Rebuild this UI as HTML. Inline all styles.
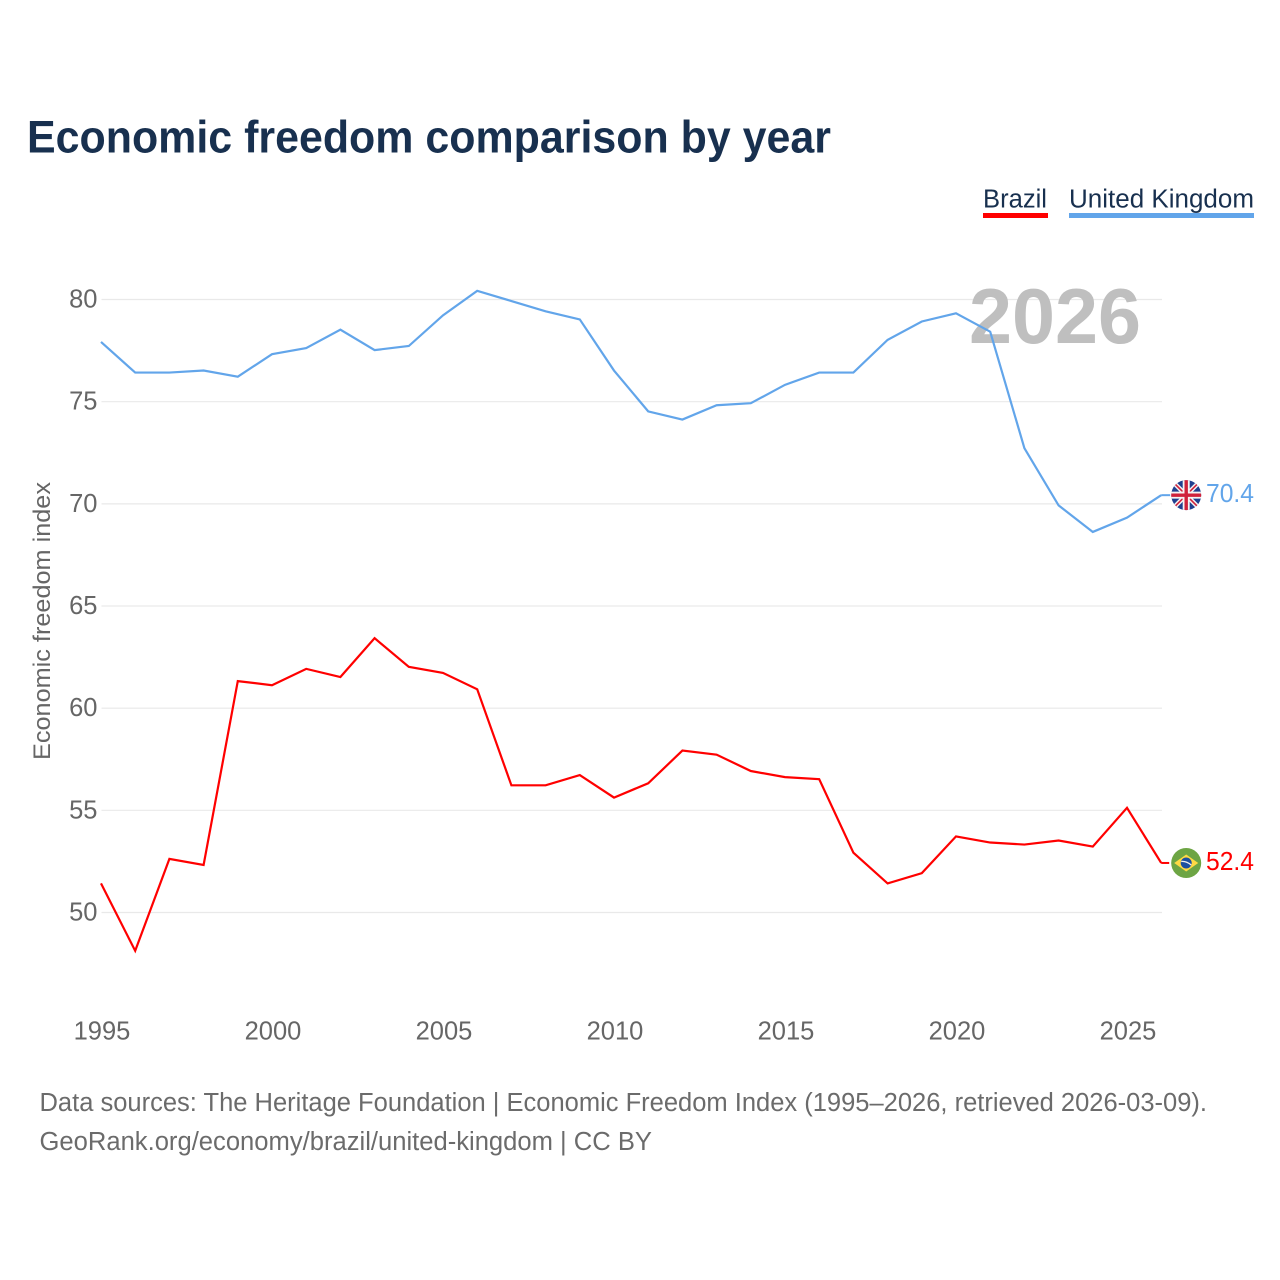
<!DOCTYPE html>
<html lang="en">
<head>
<meta charset="utf-8">
<title>Economic freedom comparison by year</title>
<style>
html,body{margin:0;padding:0;background:#fff;width:1280px;height:1280px;overflow:hidden}
svg{display:block}
text{font-family:"Liberation Sans",sans-serif}
</style>
</head>
<body>
<svg id="chart" xmlns="http://www.w3.org/2000/svg" width="1280" height="1280" viewBox="0 0 1280 1280">
  <defs>
    <clipPath id="flag-clip"><circle cx="0" cy="0" r="15"/></clipPath>
  </defs>
  <rect x="0" y="0" width="1280" height="1280" fill="#fff"/>
  <text x="27" y="152.5" font-size="45.5" font-weight="700" fill="#18304f" textLength="804" lengthAdjust="spacingAndGlyphs">Economic freedom comparison by year</text>

  <g>
    <g>
      <text x="983" y="207.5" font-size="25.5" fill="#18304f" textLength="64" lengthAdjust="spacingAndGlyphs">Brazil</text>
      <rect x="983" y="213" width="65" height="5" fill="#ff0000"/>
    </g>
    <g>
      <text x="1069" y="207.5" font-size="25.5" fill="#18304f" textLength="185" lengthAdjust="spacingAndGlyphs">United Kingdom</text>
      <rect x="1069" y="213" width="185" height="5" fill="#62a5ea"/>
    </g>
  </g>

  <g id="grid"></g>
  <g id="y-ticks"></g>
  <g id="x-ticks"></g>

  <text x="0" y="0" transform="translate(50,621) rotate(-90)" text-anchor="middle" font-size="24" fill="#666" textLength="278" lengthAdjust="spacingAndGlyphs">Economic freedom index</text>

  <text id="year-watermark" x="969" y="343" font-size="78" font-weight="700" fill="#bfbfbf" textLength="172" lengthAdjust="spacingAndGlyphs">2026</text>

  <g id="series"></g>

  <g id="flag-uk">
    <g clip-path="url(#flag-clip)">
      <rect x="-16" y="-16" width="32" height="32" fill="#1f3f8f"/>
      <path d="M-16,-16L16,16M16,-16L-16,16" stroke="#f4f4f4" stroke-width="4.5" fill="none"/>
      <path d="M-16,-16L16,16M16,-16L-16,16" stroke="#d0213a" stroke-width="1.6" fill="none"/>
      <path d="M0,-16V16M-16,0H16" stroke="#f4f4f4" stroke-width="7" fill="none"/>
      <path d="M0,-16V16M-16,0H16" stroke="#d0213a" stroke-width="3.4" fill="none"/>
    </g>
  </g>
  <g id="flag-br">
    <g clip-path="url(#flag-clip)">
      <rect x="-16" y="-16" width="32" height="32" fill="#6da544"/>
      <path d="M0,-8.5L12,0L0,8.5L-12,0Z" fill="#ffda44"/>
      <circle cx="0" cy="0" r="5.5" fill="#1b4fa0"/>
      <path d="M-5,-1.5Q0,-2 5,2" stroke="#f0f0f0" stroke-width="1.3" fill="none"/>
    </g>
  </g>
  <g id="end-labels"></g>

  <text x="39.5" y="1111" font-size="25.5" fill="#6b6b6b" textLength="1167.5" lengthAdjust="spacingAndGlyphs">Data sources: The Heritage Foundation | Economic Freedom Index (1995–2026, retrieved 2026-03-09).</text>
  <text x="39.5" y="1150" font-size="25.5" fill="#6b6b6b" textLength="612.5" lengthAdjust="spacingAndGlyphs">GeoRank.org/economy/brazil/united-kingdom | CC BY</text>
</svg>
<script>
const years = [1995,1996,1997,1998,1999,2000,2001,2002,2003,2004,2005,2006,2007,2008,2009,2010,2011,2012,2013,2014,2015,2016,2017,2018,2019,2020,2021,2022,2023,2024,2025,2026];
const brazilValues = [51.4,48.1,52.6,52.3,61.3,61.1,61.9,61.5,63.4,62.0,61.7,60.9,56.2,56.2,56.7,55.6,56.3,57.9,57.7,56.9,56.6,56.5,52.9,51.4,51.9,53.7,53.4,53.3,53.5,53.2,55.1,52.4];
const ukValues = [77.9,76.4,76.4,76.5,76.2,77.3,77.6,78.5,77.5,77.7,79.2,80.4,79.9,79.4,79.0,76.5,74.5,74.1,74.8,74.9,75.8,76.4,76.4,78.0,78.9,79.3,78.4,72.7,69.9,68.6,69.3,70.4];
const yTickValues = [50,55,60,65,70,75,80];
const xTickValues = [1995,2000,2005,2010,2015,2020,2025];

const NS = 'http://www.w3.org/2000/svg';
function xScale(year) { return 101 + (year - 1995) * 34.2; }
function yScale(value) { return 912.5 - (value - 50) * 20.433; }
function make(tag, parent, attrs) {
  const el = document.createElementNS(NS, tag);
  for (const k in attrs) el.setAttribute(k, attrs[k]);
  parent.appendChild(el);
  return el;
}

const grid = document.getElementById('grid');
const yTicks = document.getElementById('y-ticks');
const xTicks = document.getElementById('x-ticks');
yTickValues.forEach(function (v) {
  const line = make('line', grid, {x1: 101.5, x2: 1162, y1: yScale(v), y2: yScale(v), stroke: '#e9e9e9', 'stroke-width': 1.2});
  
  
  const label = make('text', yTicks, {x: 97.5, y: yScale(v) + 8, 'text-anchor': 'end', 'font-size': 25.5, fill: '#666'});
  
  
  label.textContent = String(v);
});
xTickValues.forEach(function (y) {
  const label = make('text', xTicks, {x: xScale(y) + 1, y: 1039.5, 'text-anchor': 'middle', 'font-size': 25.5, fill: '#666'});
  
  
  label.textContent = String(y);
});

const seriesGroup = document.getElementById('series');
const endLabels = document.getElementById('end-labels');
function pathFor(values) {
  return values.map(function (v, i) {
    return (i ? 'L' : 'M') + xScale(years[i]).toFixed(2) + ',' + (yScale(v) - 0.5).toFixed(2);
  }).join('') ;
}
function drawEnd(values, color, stub, flagId) {
  const last = values[values.length - 1];
  const lastYear = years[years.length - 1];
  const lx = xScale(lastYear);
  const ly = yScale(last) - 0.5;
  const connector = make('line', seriesGroup, {x1: lx, y1: ly, x2: lx + stub, y2: ly, stroke: color, 'stroke-width': 2});
  
  
  document.getElementById(flagId).setAttribute('transform', 'translate(' + (lx + 25) + ',' + ly + ')');
  const label = make('text', endLabels, {x: 1254, y: ly + 7, 'text-anchor': 'end', 'font-size': 25.5, fill: color, textLength: 48, lengthAdjust: 'spacingAndGlyphs'});
  
  
  label.textContent = last.toFixed(1);
}

const brazilLine = make('path', seriesGroup, {d: pathFor(brazilValues), fill: 'none', stroke: '#ff0000', 'stroke-width': 2.2, 'stroke-linejoin': 'miter'});


const ukLine = make('path', seriesGroup, {d: pathFor(ukValues), fill: 'none', stroke: '#62a5ea', 'stroke-width': 2.2, 'stroke-linejoin': 'miter'});


drawEnd(ukValues, '#62a5ea', 9, 'flag-uk');
drawEnd(brazilValues, '#ff0000', 8, 'flag-br');
document.getElementById('year-watermark').textContent = String(years[years.length - 1]);
</script>
</body>
</html>
